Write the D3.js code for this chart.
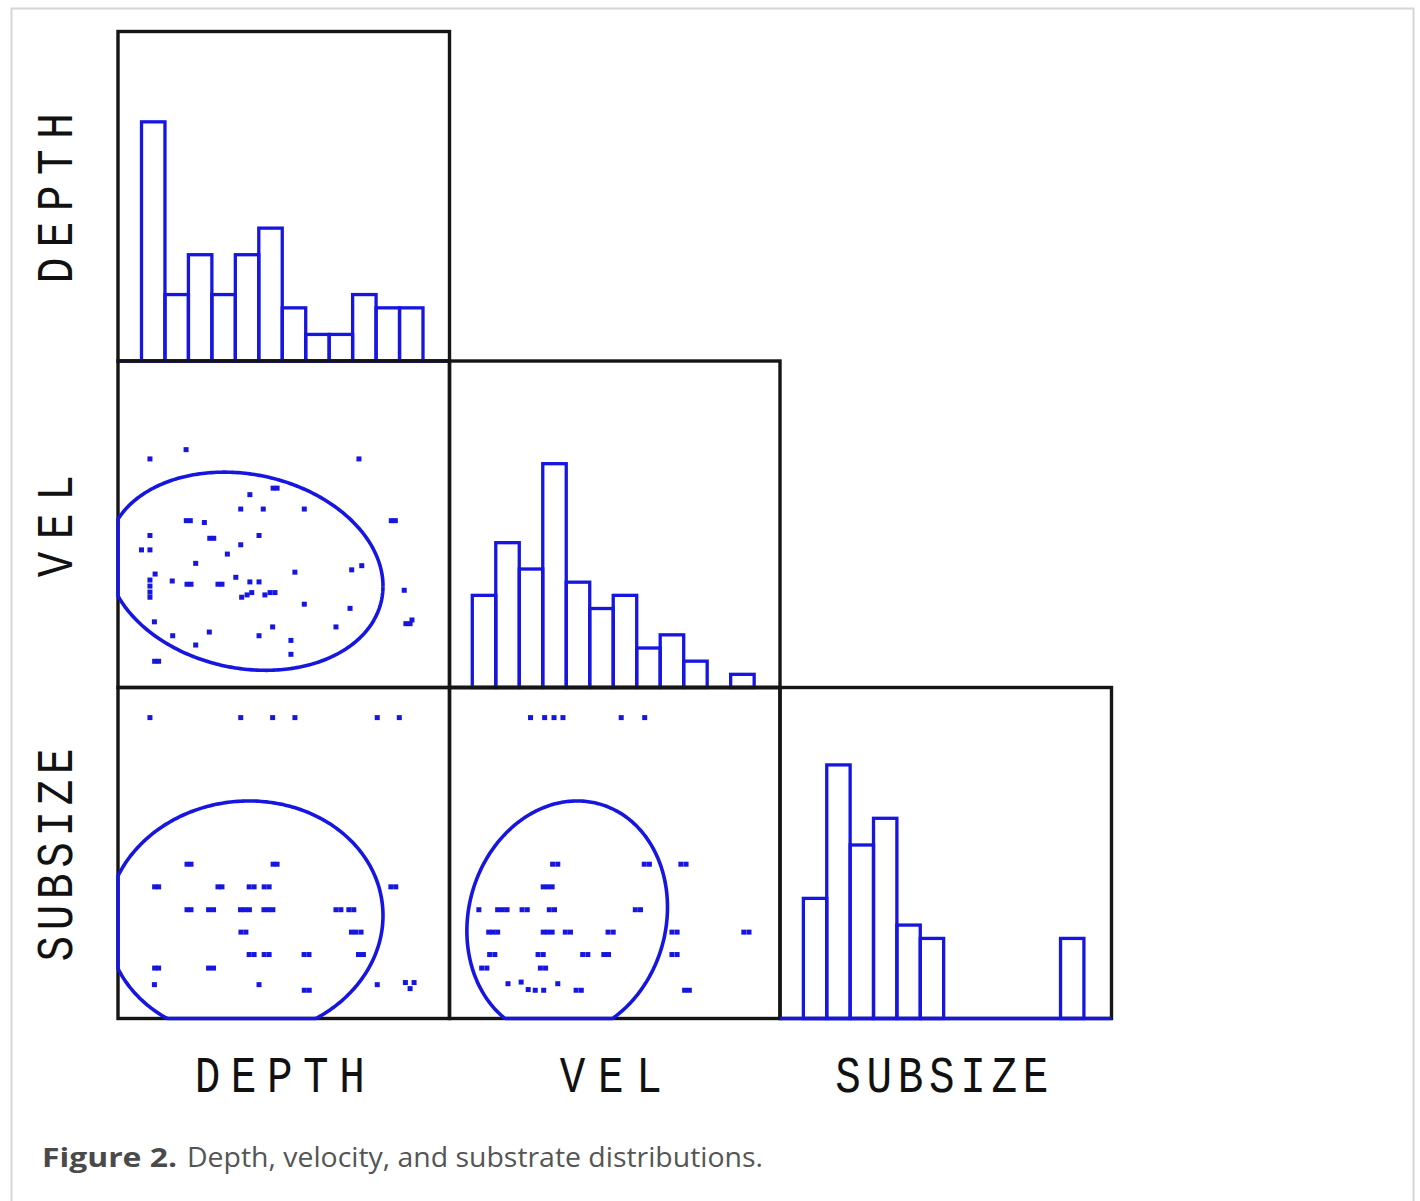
<!DOCTYPE html>
<html>
<head>
<meta charset="utf-8">
<script src="https://cdn.jsdelivr.net/npm/d3@7"></script>
<style>
  body { margin: 0; background: #fff; }
  svg { display: block; }
</style>
</head>
<body>
<svg id="chart" width="1420" height="1201"></svg>
<script>
// ---- data ---------------------------------------------------------------
const variables = ["DEPTH", "VEL", "SUBSIZE"];

// histogram bins (12 equal bins per variable)
const binStart = [0, 0, 0];
const binWidth = [10, 5, 1];
const depthCounts   = [18, 5, 8, 5, 8, 10, 4, 2, 2, 5, 4, 4];
const velCounts     = [7, 11, 9, 17, 8, 6, 7, 3, 4, 2, 0, 1];
const subsizeCounts = [9, 19, 13, 15, 7, 6, 0, 0, 0, 0, 0, 6];

// axis domains for each variable and for the histogram counts
const depthDomain   = [-10.02, 131.3];
const velDomain     = [-4.85, 65.5];
const subsizeDomain = [-1, 13.18];
const countDomain   = [0, 24.8];

// summary statistics for the prediction ellipses
const means = [44.1, 20.2, 3.26];
const sds   = [32.8, 11.9, 2.82];
const corrDepthVel = -0.15;
const corrDepthSub = 0.03;
const corrVelSub   = 0.10;
const ellipseLevel = 0.80;

// scatter points: [x, y]
const depthVel = [
  [3.6,44.4],[19.0,46.4],[92.7,44.4],
  [56.1,38.1],[57.8,38.1],[46.2,36.7],
  [42.3,33.6],[51.9,33.6],[69.4,33.6],
  [19.1,31.1],[20.8,31.1],[26.8,30.7],[106.5,31.1],[108.2,31.1],
  [3.6,27.9],[29.1,27.3],[30.8,27.3],[50.1,27.9],
  [0.0,24.8],[3.6,24.8],[42.3,25.9],[36.6,23.9],[23.1,21.9],
  [65.4,20.0],[89.6,20.5],[93.9,21.4],
  [5.8,19.6],[3.6,18.3],[3.6,17.0],[3.6,15.7],[3.6,14.6],
  [13.1,18.1],[19.4,17.4],[21.1,17.4],[32.6,17.4],[34.3,17.4],
  [40.2,18.9],[46.2,17.9],[50.1,17.9],
  [42.7,14.6],[45.0,15.1],[47.0,15.6],[52.6,15.1],[54.8,15.6],[56.9,15.6],
  [69.4,13.1],[112.0,16.1],[88.9,12.2],
  [112.7,8.9],[114.5,8.9],[115.3,9.7],
  [5.5,9.3],[55.9,8.2],[82.9,8.2],[28.9,7.1],[13.3,6.3],[50.1,6.3],
  [63.7,5.3],[23.1,4.3],[63.7,2.3],[5.6,0.8],[7.3,0.8]
];

const depthSub = [
  [3.6,11.89],[42.3,11.89],[55.9,11.89],[65.4,11.89],[100.5,11.89],[109.9,11.89],
  [19.4,5.61],[21.1,5.61],[56.1,5.61],[57.8,5.61],
  [5.6,4.64],[7.3,4.64],[32.6,4.64],[34.3,4.64],[45.9,4.64],[48.0,4.64],
  [52.3,4.64],[54.4,4.64],[106.3,4.64],[108.4,4.64],
  [19.4,3.66],[21.1,3.66],[28.6,3.66],[30.7,3.66],[42.2,3.66],[44.1,3.66],[46.0,3.66],
  [52.2,3.66],[54.1,3.66],[56.0,3.66],[82.9,3.66],[85.0,3.66],[88.4,3.66],[90.5,3.66],
  [42.4,2.70],[44.5,2.70],[89.5,2.70],[91.4,2.70],[93.6,2.70],
  [45.9,1.74],[48.0,1.74],[52.3,1.74],[54.4,1.74],[69.3,1.74],[71.4,1.74],[92.5,1.74],[94.6,1.74],
  [5.6,1.16],[7.3,1.16],[28.6,1.16],[30.7,1.16],
  [5.5,0.45],[50.1,0.45],[100.5,0.45],
  [112.5,0.54],[114.5,0.28],[116.2,0.54],
  [69.4,0.21],[71.5,0.21]
];

const velSub = [
  [12.4,11.89],[15.4,11.89],[17.4,11.89],[19.3,11.89],[31.7,11.89],[36.7,11.89],
  [17.1,5.61],[18.2,5.61],[36.6,5.61],[37.7,5.61],[44.4,5.61],[45.5,5.61],
  [15.1,4.64],[16.0,4.64],[17.0,4.64],
  [1.4,3.66],[5.4,3.66],[6.4,3.66],[7.4,3.66],[10.6,3.66],[11.7,3.66],
  [16.4,3.66],[17.5,3.66],[34.7,3.66],[35.8,3.66],
  [3.5,2.70],[4.4,2.70],[5.4,2.70],[15.1,2.70],[16.0,2.70],[17.0,2.70],
  [19.8,2.70],[20.9,2.70],[28.9,2.70],[30.0,2.70],[42.5,2.70],[43.6,2.70],
  [57.8,2.70],[58.9,2.70],
  [3.7,1.74],[4.8,1.74],[14.0,1.74],[15.1,1.74],[23.5,1.74],[24.6,1.74],
  [28.0,1.74],[29.0,1.74],[42.5,1.74],[43.6,1.74],
  [2.0,1.16],[3.1,1.16],[14.5,1.16],[15.6,1.16],
  [7.6,0.49],[10.4,0.56],[11.9,0.24],[13.4,0.21],[15.2,0.21],[18.2,0.49],
  [22.1,0.21],[23.2,0.21],[45.2,0.21],[46.2,0.21]
];

const captionLead = "Figure 2.";
const captionText = "Depth, velocity, and substrate distributions.";

// ---- layout -------------------------------------------------------------
const colEdges = [118, 449.5, 780, 1111.5];
const rowEdges = [31.5, 361, 687.5, 1018.5];
const BLUE = "#1616e0";
const FRAME = "#151515";

const svg = d3.select("#chart");

// outer figure box
svg.append("rect")
  .attr("x", 11.5).attr("y", 8.5)
  .attr("width", 1402).attr("height", 1220)
  .attr("fill", "none").attr("stroke", "#d6d6d6").attr("stroke-width", 2);

const domains = [depthDomain, velDomain, subsizeDomain];
const counts = [depthCounts, velCounts, subsizeCounts];

const xScales = domains.map((dom, i) =>
  d3.scaleLinear().domain(dom).range([colEdges[i], colEdges[i + 1]]));
const yScales = domains.map((dom, i) =>
  d3.scaleLinear().domain(dom).range([rowEdges[i + 1], rowEdges[i]]));
const countScales = [0, 1, 2].map(i =>
  d3.scaleLinear().domain(countDomain).range([rowEdges[i + 1], rowEdges[i]]));

const corr = (a, b) => {
  const key = [a, b].sort().join("-");
  return { "0-1": corrDepthVel, "0-2": corrDepthSub, "1-2": corrVelSub }[key];
};
const scatterData = { "1-0": depthVel, "2-0": depthSub, "2-1": velSub };

function frame(r, c) {
  svg.append("rect")
    .attr("x", colEdges[c]).attr("y", rowEdges[r])
    .attr("width", colEdges[c + 1] - colEdges[c])
    .attr("height", rowEdges[r + 1] - rowEdges[r])
    .attr("fill", "none").attr("stroke", FRAME).attr("stroke-width", 3.4);
}

function histogram(i) {
  const g = svg.append("g");
  const x = xScales[i], y = countScales[i];
  const bins = counts[i].map((n, k) => ({
    x0: binStart[i] + k * binWidth[i],
    x1: binStart[i] + (k + 1) * binWidth[i],
    n
  })).filter(b => b.n > 0);
  g.selectAll("rect").data(bins).join("rect")
    .attr("x", b => x(b.x0))
    .attr("width", b => x(b.x1) - x(b.x0))
    .attr("y", b => y(b.n))
    .attr("height", b => y(0) - y(b.n))
    .attr("fill", "none").attr("stroke", BLUE).attr("stroke-width", 3.3);
  g.append("line")
    .attr("x1", colEdges[i]).attr("x2", colEdges[i + 1])
    .attr("y1", y(0)).attr("y2", y(0))
    .attr("stroke", BLUE).attr("stroke-width", 3.3);
}

function scatter(r, c) {
  const g = svg.append("g");
  const x = xScales[c], y = yScales[r];
  const pts = scatterData[r + "-" + c];
  g.selectAll("rect").data(pts).join("rect")
    .attr("x", d => x(d[0]) - 2.5)
    .attr("y", d => y(d[1]) - 2.5)
    .attr("width", 5).attr("height", 5)
    .attr("fill", BLUE);

  // prediction ellipse, held inside the panel
  const k = Math.sqrt(-2 * Math.log(1 - ellipseLevel));
  const rho = corr(r, c);
  const ring = d3.range(0, 361).map(deg => {
    const t = deg * Math.PI / 180;
    const z1 = Math.cos(t);
    const z2 = rho * Math.cos(t) + Math.sqrt(1 - rho * rho) * Math.sin(t);
    const px = x(means[c] + k * sds[c] * z1);
    const py = y(means[r] + k * sds[r] * z2);
    return [
      Math.max(colEdges[c], Math.min(colEdges[c + 1], px)),
      Math.max(rowEdges[r], Math.min(rowEdges[r + 1], py))
    ];
  });
  g.append("path")
    .attr("d", d3.line()(ring))
    .attr("fill", "none").attr("stroke", BLUE)
    .attr("stroke-width", 3.6).attr("stroke-linejoin", "round");
}

// lower-triangle panels, drawn row by row
for (let r = 0; r < 3; r++) {
  for (let c = 0; c <= r; c++) {
    frame(r, c);
    if (r === c) histogram(r); else scatter(r, c);
  }
}

// ---- variable labels (tall, narrow plotter-style lettering) -------------
const labelFont = "'Liberation Mono', 'DejaVu Sans Mono', monospace";
const labelWidths = { DEPTH: 170, VEL: 102, SUBSIZE: 213 };
const squeeze = 0.82;

function label(v, transform) {
  svg.append("g")
    .attr("transform", transform + ` scale(${squeeze},1)`)
    .append("text")
    .attr("x", 0).attr("y", 0)
    .attr("text-anchor", "middle")
    .attr("font-family", labelFont).attr("font-size", 52)
    .attr("fill", "#111")
    .attr("textLength", labelWidths[v] / squeeze).attr("lengthAdjust", "spacing")
    .text(v);
}

variables.forEach((v, i) => {
  const cx = (colEdges[i] + colEdges[i + 1]) / 2 - 4;
  label(v, `translate(${cx},1092)`);
  const cy = (rowEdges[i] + rowEdges[i + 1]) / 2 + 2;
  label(v, `translate(72,${cy}) rotate(-90)`);
});

// ---- caption ------------------------------------------------------------
svg.append("text")
  .attr("x", 42).attr("y", 1167)
  .attr("font-family", "'Open Sans', 'DejaVu Sans', sans-serif")
  .attr("font-size", 27).attr("font-weight", "bold")
  .attr("fill", "#4a4a4a")
  .attr("textLength", 135).attr("lengthAdjust", "spacingAndGlyphs")
  .text(captionLead);

svg.append("text")
  .attr("x", 187).attr("y", 1167)
  .attr("font-family", "'Open Sans', 'DejaVu Sans', sans-serif")
  .attr("font-size", 27)
  .attr("fill", "#555")
  .attr("textLength", 576).attr("lengthAdjust", "spacingAndGlyphs")
  .text(captionText);
</script>
</body>
</html>
